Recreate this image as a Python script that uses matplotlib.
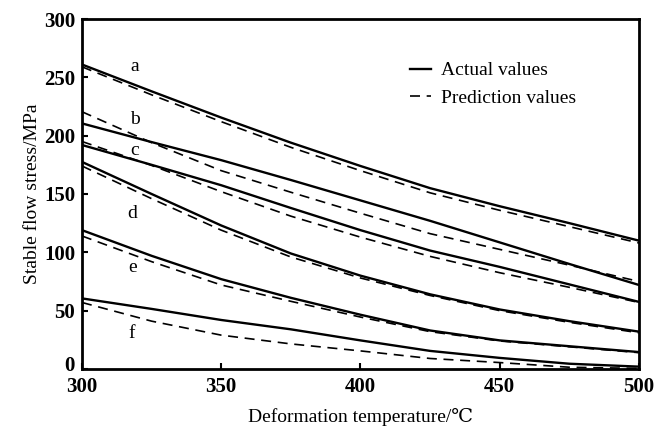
import matplotlib.pyplot as plt
from matplotlib.transforms import ScaledTranslation

plt.rcParams['font.family'] = ['Liberation Serif', 'DejaVu Serif']

# Deformation temperature (C)
temperature = [300, 325, 350, 375, 400, 425, 450, 475, 500]

# Stable flow stress (MPa), actual / predicted
a_actual = [261, 238, 215.5, 194, 174, 155, 139.5, 125, 110]
a_pred = [259, 235, 212, 190, 170, 151, 136, 122, 108]
b_actual = [210.5, 194.5, 179, 162, 144.5, 127, 108.5, 90, 72]
b_pred = [220.5, 194, 170, 151.5, 133.5, 116, 102.5, 89, 75]
c_actual = [192, 175, 157.5, 138, 119, 101.5, 87.5, 72.5, 57.5]
c_pred = [195, 174.5, 152, 131, 113, 96.5, 82.5, 70, 57]
d_actual = [177.5, 150, 123, 99, 80, 64, 51, 41, 32]
d_pred = [174, 146, 119, 96, 78, 63, 50, 40, 31]
e_actual = [119, 97, 77, 61, 46.5, 33, 24.5, 19.5, 14.5]
e_pred = [114, 92, 72, 58, 44.5, 32, 24, 19, 14]
f_actual = [60.5, 51.5, 42, 34, 24.5, 15.5, 9.5, 4.5, 2]
f_pred = [57, 41, 29, 21.5, 15.5, 9, 5.5, 1.5, 0.5]

curve_labels = ['a', 'b', 'c', 'd', 'e', 'f']
label_pos = [(319, 259), (319, 214), (319, 187), (318, 133), (318, 87), (318, 30)]

actual = [a_actual, b_actual, c_actual, d_actual, e_actual, f_actual]
pred = [a_pred, b_pred, c_pred, d_pred, e_pred, f_pred]

fig = plt.figure(figsize=(6.57, 4.30), dpi=100)
ax = fig.add_axes([0.1248, 0.1419, 0.8478, 0.8139])

for i in range(len(actual)):
    ax.plot(temperature, actual[i], color='black', linewidth=1.7,
            label='Actual values' if i == 0 else None)
    ax.plot(temperature, pred[i], color='black', linewidth=1.2,
            dashes=(6, 4), label='Prediction values' if i == 0 else None)
    ax.text(label_pos[i][0], label_pos[i][1], curve_labels[i],
            fontsize=14, ha='center', va='center')

ax.set_xlim(300, 500)
ax.set_ylim(0, 300)
ax.set_xticks([300, 350, 400, 450, 500])
ax.set_yticks([0, 50, 100, 150, 200, 250, 300])
ax.tick_params(direction='in', length=4, width=1.5, labelsize=15,
               top=False, right=False)
ax.tick_params(axis='x', pad=6)
ax.tick_params(axis='y', pad=5)
for lbl in ax.get_xticklabels() + ax.get_yticklabels():
    lbl.set_fontweight('bold')
for spine in ax.spines.values():
    spine.set_linewidth(2)

ax.set_xlabel('Deformation temperature/\u2103', fontsize=14, labelpad=8)
ax.set_ylabel('Stable flow stress/MPa', fontsize=14, labelpad=2)

ax.legend(loc='upper left', bbox_to_anchor=(0.575, 0.9), frameon=False,
          fontsize=14, handlelength=1.1, handletextpad=0.5,
          labelspacing=0.5, borderaxespad=0)

# lift the "0" label a little so it clears the "300" below it
zero_lbl = ax.get_yticklabels()[0]
zero_lbl.set_transform(zero_lbl.get_transform()
                       + ScaledTranslation(0, 4 / 72, fig.dpi_scale_trans))

fig.savefig('out.png', dpi=100)
